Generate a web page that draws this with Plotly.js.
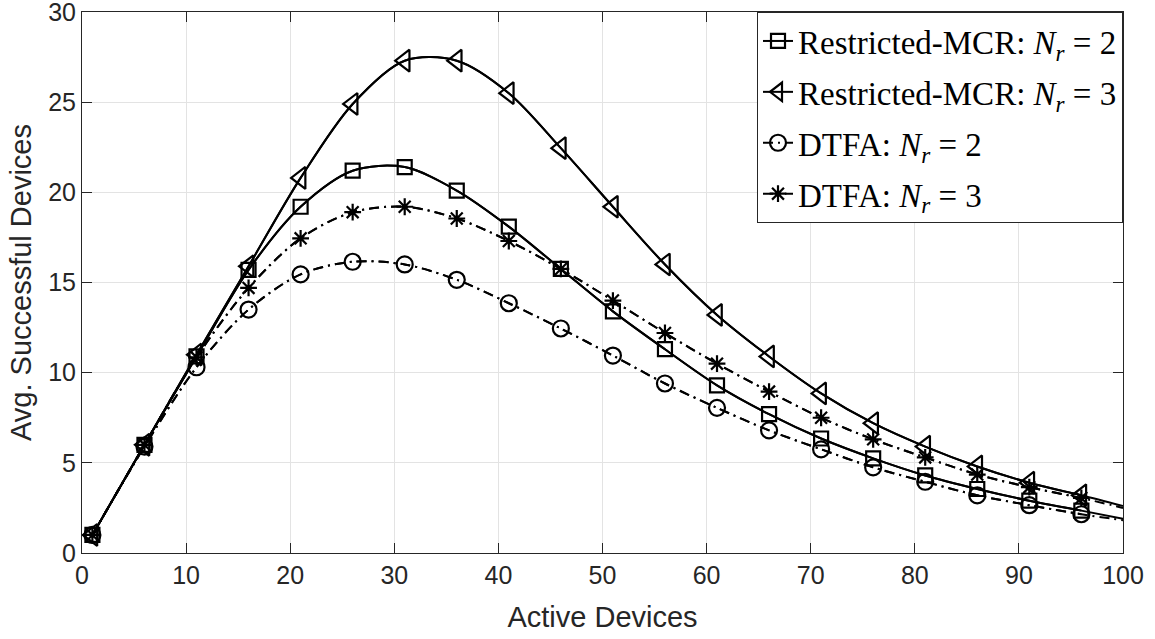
<!DOCTYPE html>
<html>
<head>
<meta charset="utf-8">
<script src="https://cdn.plot.ly/plotly-3.0.1.min.js"></script>
<style>
  html, body { margin: 0; padding: 0; background: #fff; }
  #chart { width: 1155px; height: 639px; }
</style>
</head>
<body>
<div id="chart"></div>
<script>
// Number of active devices (markers every 5 devices, curve runs on to 100)
const activeDevices = [1, 6, 11, 16, 21, 26, 31, 36, 41, 46, 51, 56, 61, 66, 71, 76, 81, 86, 91, 96, 100];

// Average number of successful devices per scheme
const mcrNr2  = [1.0, 6.0, 10.9, 15.7, 19.2, 21.2, 21.4, 20.1, 18.1, 15.75, 13.4, 11.3, 9.3, 7.7, 6.35, 5.25, 4.3, 3.55, 2.9, 2.35, 1.9];
const mcrNr3  = [1.0, 6.0, 11.0, 15.9, 20.8, 24.9, 27.3, 27.3, 25.5, 22.45, 19.2, 16.0, 13.2, 10.9, 8.85, 7.2, 5.9, 4.8, 3.9, 3.2, 2.6];
const dtfaNr2 = [1.0, 5.9, 10.3, 13.5, 15.45, 16.15, 16.0, 15.15, 13.85, 12.45, 10.95, 9.4, 8.05, 6.8, 5.75, 4.75, 3.95, 3.2, 2.65, 2.15, 1.82];
const dtfaNr3 = [1.0, 6.0, 10.85, 14.7, 17.45, 18.9, 19.2, 18.55, 17.3, 15.75, 14.0, 12.2, 10.5, 8.95, 7.5, 6.3, 5.3, 4.35, 3.65, 3.05, 2.5];

const seriesNames = [
  'Restricted-MCR: <i>N</i><sub><i>r</i></sub> = 2',
  'Restricted-MCR: <i>N</i><sub><i>r</i></sub> = 3',
  'DTFA: <i>N</i><sub><i>r</i></sub> = 2',
  'DTFA: <i>N</i><sub><i>r</i></sub> = 3'
];

const ink = '#000000';
const dashDot = '10px,5px,2px,5px';

// the marker points stop at 96; the curve itself runs on to 100
const markedCount = activeDevices.filter(x => x <= 96).length;

function makeTraces(y, name, symbol, size, dash, group) {
  const line = { color: ink, width: 2, shape: 'spline', smoothing: 0.9, dash: dash };
  return [
    {
      x: activeDevices,
      y: y,
      type: 'scatter',
      mode: 'lines',
      line: line,
      legendgroup: group,
      showlegend: false,
      hoverinfo: 'skip'
    },
    {
      x: activeDevices.slice(0, markedCount),
      y: y.slice(0, markedCount),
      name: name,
      legendgroup: group,
      type: 'scatter',
      mode: 'markers+lines',
      line: line,
      marker: {
        symbol: symbol,
        size: size,
        color: ink,
        line: { color: ink, width: 2.2 }
      }
    }
  ];
}

const traces = [].concat(
  makeTraces(mcrNr2,  seriesNames[0], 'square-open',        14, 'solid', 'g1'),
  makeTraces(mcrNr3,  seriesNames[1], 'triangle-left-open', 19, 'solid', 'g2'),
  makeTraces(dtfaNr2, seriesNames[2], 'circle-open',        16, dashDot, 'g3'),
  makeTraces(dtfaNr3, seriesNames[3], 'asterisk-open',      14, dashDot, 'g4')
);

const sansFont = 'Liberation Sans, Arial, sans-serif';

const axisCommon = {
  showline: true,
  linecolor: '#262626',
  linewidth: 1,
  mirror: 'ticks',
  ticks: 'inside',
  ticklen: 10,
  tickwidth: 1,
  tickcolor: '#262626',
  showgrid: true,
  gridcolor: '#e3e3e3',
  gridwidth: 1,
  zeroline: false,
  ticklabeloverflow: 'allow',
  tickfont: { family: sansFont, size: 25, color: '#262626' }
};

const layout = {
  width: 1155,
  height: 639,
  margin: { l: 82, r: 32, t: 12, b: 86 },
  paper_bgcolor: '#ffffff',
  plot_bgcolor: '#ffffff',
  showlegend: true,
  xaxis: Object.assign({}, axisCommon, {
    range: [0, 100],
    tickvals: [0, 10, 20, 30, 40, 50, 60, 70, 80, 90, 100],
    title: { text: 'Active Devices', standoff: 18,
      font: { family: sansFont, size: 29, color: '#262626' } }
  }),
  yaxis: Object.assign({}, axisCommon, {
    range: [0, 30],
    tickvals: [0, 5, 10, 15, 20, 25, 30],
    title: { text: 'Avg. Successful Devices', standoff: 8,
      font: { family: sansFont, size: 29, color: '#262626' } }
  }),
  legend: {
    x: 1,
    y: 1,
    xanchor: 'right',
    yanchor: 'top',
    bgcolor: '#ffffff',
    bordercolor: '#262626',
    borderwidth: 1,
    itemwidth: 30,
    tracegroupgap: 5,
    font: { family: 'Liberation Serif, Times New Roman, serif', size: 33, color: '#000000' }
  }
};

Plotly.newPlot('chart', traces, layout, { displayModeBar: false, staticPlot: true });
</script>
</body>
</html>
